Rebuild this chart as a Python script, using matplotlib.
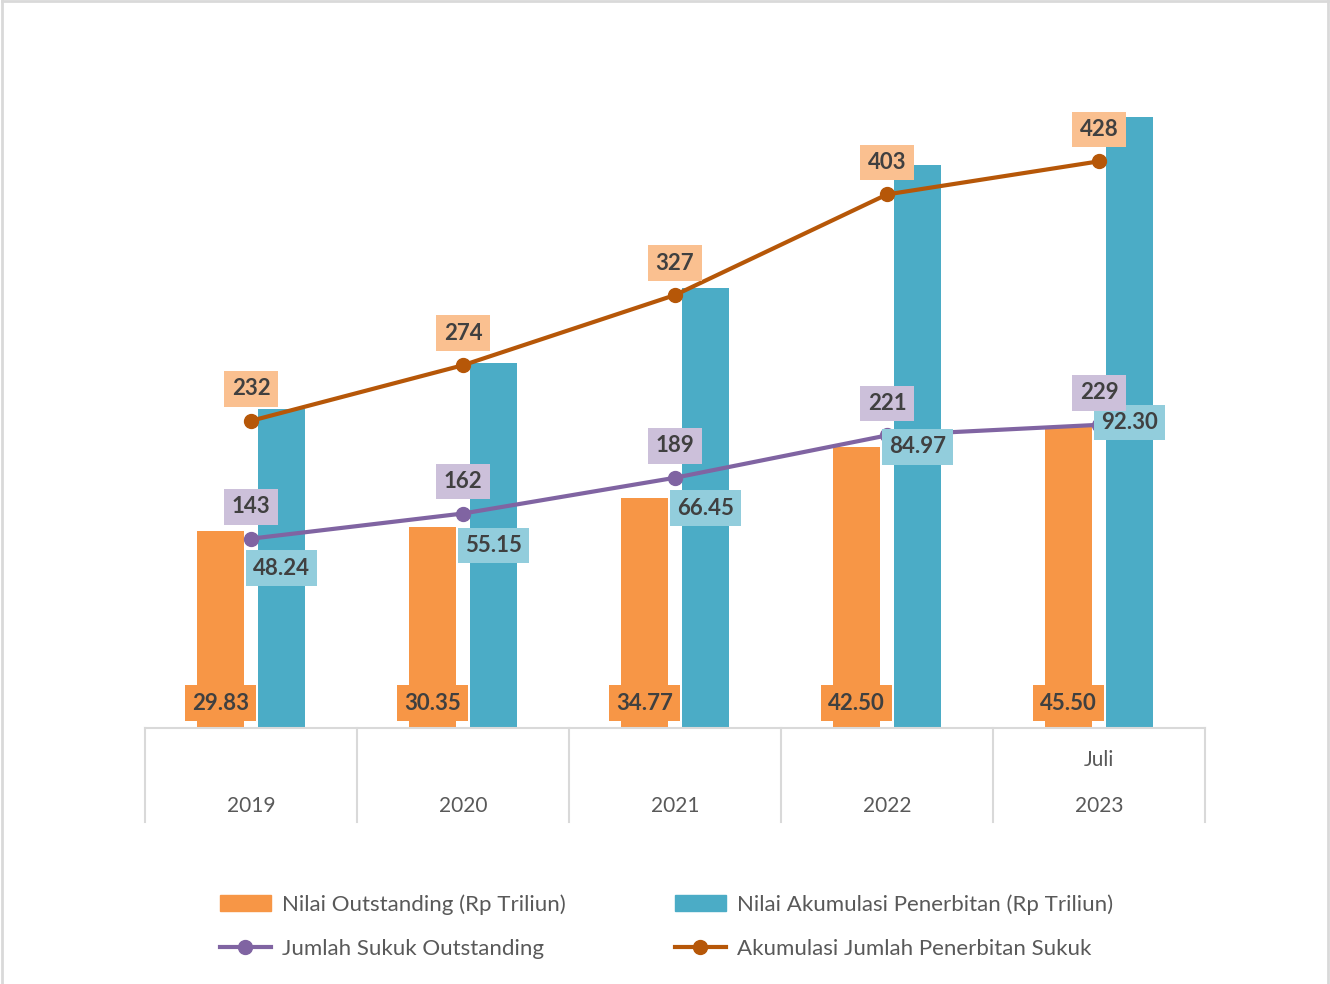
import matplotlib.pyplot as plt
import numpy as np
from matplotlib.lines import Line2D
from matplotlib.patches import Patch

plt.rcParams['font.family'] = ['Lato', 'DejaVu Sans']

years = ['2019', '2020', '2021', '2022', '2023']
top_labels = ['', '', '', '', 'Juli']
nilai_outstanding = [29.83, 30.35, 34.77, 42.50, 45.50]
nilai_akumulasi = [48.24, 55.15, 66.45, 84.97, 92.30]
jumlah_outstanding = [143, 162, 189, 221, 229]
akumulasi_jumlah = [232, 274, 327, 403, 428]

c_orange = '#F79646'
c_blue = '#4BACC6'
c_purple = '#8064A2'
c_dark = '#B65708'
txt = '#404040'
grid = '#D9D9D9'

fig = plt.figure(figsize=(13.3, 9.84), dpi=100)
ax = fig.add_axes([145/1330, 1 - 728/984, 1060/1330, 662/984])
ax2 = ax.twinx()

x = np.arange(len(years))
w = 0.222
off = 0.144

ax.bar(x - off, nilai_outstanding, w, color=c_orange, zorder=2)
ax.bar(x + off, nilai_akumulasi, w, color=c_blue, zorder=2)
ax.set_ylim(0, 100)
ax.set_xlim(-0.5, len(years) - 0.5)

ax2.plot(x, jumlah_outstanding, color=c_purple, lw=3, marker='o', ms=10, zorder=3)
ax2.plot(x, akumulasi_jumlah, color=c_dark, lw=3, marker='o', ms=10, zorder=3)
ax2.set_ylim(0, 500)

for a in (ax, ax2):
    a.set_yticks([])
    a.set_xticks([])
    for s in a.spines.values():
        s.set_visible(False)

# multi-level category axis
tr = ax.get_xaxis_transform()
ax.plot([-0.5, len(years) - 0.5], [0, 0], color=grid, lw=1.5, transform=tr, clip_on=False)
for b in np.arange(-0.5, len(years), 1.0):
    ax.plot([b, b], [0, -0.142], color=grid, lw=1.5, transform=tr, clip_on=False)
for i in range(len(years)):
    ax.text(i, -0.118, years[i], transform=tr, ha='center', va='center', fontsize=15, color='#595959')
    if top_labels[i]:
        ax.text(i, -0.048, top_labels[i], transform=tr, ha='center', va='center', fontsize=15, color='#595959')

def box(fc):
    return dict(boxstyle='square,pad=0.33', fc=fc, ec='none')

lab = dict(ha='center', va='center', fontsize=16, fontweight='bold', color=txt, zorder=10,
           annotation_clip=False)

for i in range(len(years)):
    ax2.annotate(f'{nilai_outstanding[i]:.2f}', xy=(i - off, 0), xytext=(0, 18),
                 textcoords='offset points', bbox=box(c_orange), **lab)
    ax2.annotate(f'{nilai_akumulasi[i]:.2f}', xy=(i + off, nilai_akumulasi[i] / 2 * 5),
                 bbox=box('#92CDDC'), **lab)
    ax2.annotate(f'{jumlah_outstanding[i]}', xy=(i, jumlah_outstanding[i]), xytext=(0, 23),
                 textcoords='offset points', bbox=box('#CCC0DA'), **lab)
    ax2.annotate(f'{akumulasi_jumlah[i]}', xy=(i, akumulasi_jumlah[i]), xytext=(0, 23),
                 textcoords='offset points', bbox=box('#FAC090'), **lab)

handles = [
    Patch(color=c_orange),
    Line2D([], [], color=c_purple, lw=3, marker='o', ms=10),
    Patch(color=c_blue),
    Line2D([], [], color=c_dark, lw=3, marker='o', ms=10),
]
labels = ['Nilai Outstanding (Rp Triliun)', 'Jumlah Sukuk Outstanding',
          'Nilai Akumulasi Penerbitan (Rp Triliun)', 'Akumulasi Jumlah Penerbitan Sukuk']
leg = fig.legend(handles, labels, loc='center', bbox_to_anchor=(0.501, 0.0584), ncol=2,
                 frameon=False, fontsize=16, handlelength=2.3, handletextpad=0.5,
                 columnspacing=4.9, labelspacing=1.1)
for t in leg.get_texts():
    t.set_color('#595959')

# outer frame
for xs, ys in [([0.0012, 0.0012], [0, 0.9985]), ([0.0012, 0.9985], [0.9985, 0.9985]),
               ([0.9985, 0.9985], [0, 0.9985])]:
    fig.add_artist(Line2D(xs, ys, color=grid, lw=2))

fig.savefig('out.png', dpi=100)
